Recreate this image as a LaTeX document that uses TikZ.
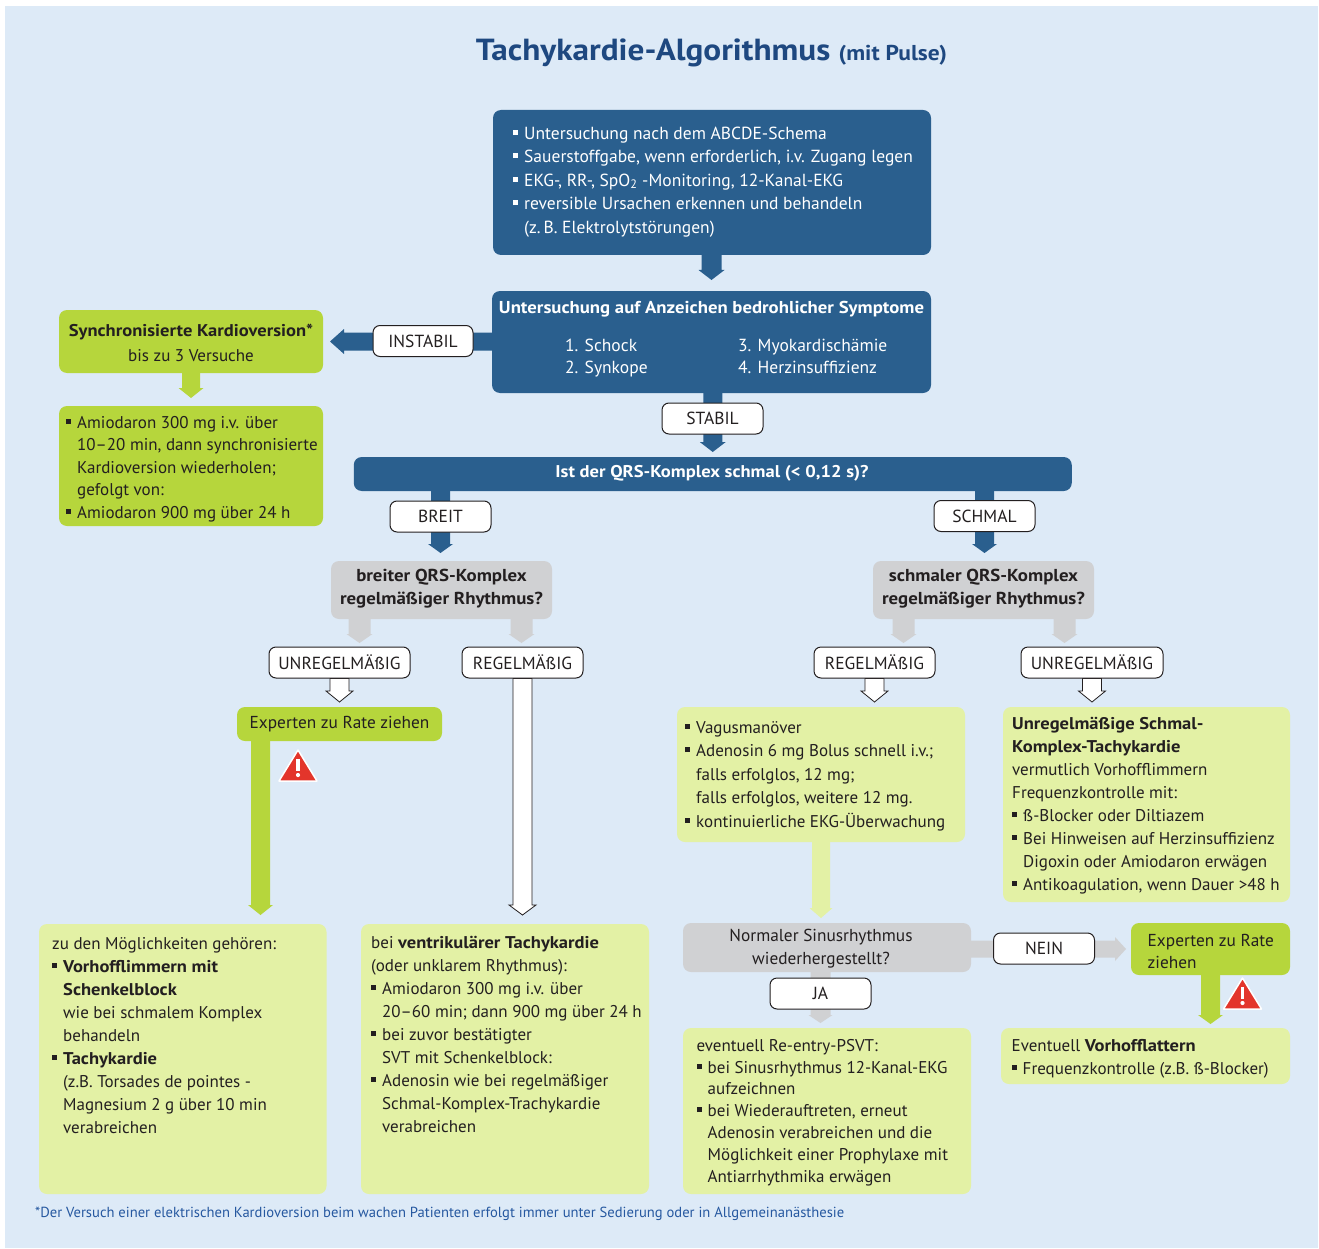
\documentclass[tikz,border=0pt]{standalone}
\usepackage{fontspec}
\setmainfont{PT Sans}[BoldFeatures={FakeStretch=1.09}]
\usetikzlibrary{calc}
\definecolor{bgblue}{RGB}{221,234,247}
\definecolor{dblue}{RGB}{42,95,142}
\definecolor{tblue}{RGB}{30,72,128}
\definecolor{fblue}{RGB}{38,88,160}
\definecolor{bgreen}{RGB}{182,214,60}
\definecolor{lgreen}{RGB}{227,241,165}
\definecolor{grayone}{RGB}{208,209,211}
\definecolor{wred}{RGB}{227,53,43}
\definecolor{txt}{RGB}{35,31,32}
\newcommand\bul{\rule[4.5pt]{5pt}{5pt}\hspace*{6pt}}
\newcommand\ind{\hspace*{11pt}}
\newcommand\fl{\rule{0pt}{14pt}}
\newcommand\fs[2]{\fontsize{#1}{#2}\selectfont}
\newcommand\downblock[6]{\path[#1] let \p1=(#2), \p2=(#3) in
  (\x2-#4,\y1) -- (\x2+#4,\y1) -- (\x2+#4,\y2+#6) -- (\x2+#5,\y2+#6) -- (\x2,\y2)
  -- (\x2-#5,\y2+#6) -- (\x2-#4,\y2+#6) -- cycle;}
\newcommand\leftblock[6]{\path[#1] let \p1=(#2), \p2=(#3) in
  (\x1,\y2-#4) -- (\x2+#6,\y2-#4) -- (\x2+#6,\y2-#5) -- (\x2,\y2)
  -- (\x2+#6,\y2+#5) -- (\x2+#6,\y2+#4) -- (\x1,\y2+#4) -- cycle;}
\newcommand\rightblock[6]{\path[#1] let \p1=(#2), \p2=(#3) in
  (\x1,\y2-#4) -- (\x2-#6,\y2-#4) -- (\x2-#6,\y2-#5) -- (\x2,\y2)
  -- (\x2-#6,\y2+#5) -- (\x2-#6,\y2+#4) -- (\x1,\y2+#4) -- cycle;}
\newcommand\warnsign[1]{%
  \path[fill=wred, draw=white, line width=1.5pt, line join=round]
    ($(#1)+(0,-16)$) -- ($(#1)+(19,15)$) -- ($(#1)+(-19,15)$) -- cycle;
  \fill[white] ($(#1)+(-1.8,-7)$) rectangle ($(#1)+(1.8,5)$);
  \fill[white] ($(#1)+(0,9)$) circle (2.1pt);}
\pgfdeclarelayer{back}
\pgfdeclarelayer{arrows}
\pgfsetlayers{back,arrows,main}
\tikzset{
  bx/.style={rounded corners=8pt, inner sep=0pt, outer sep=0pt},
  dbox/.style={bx, fill=dblue},
  gbox/.style={bx, fill=bgreen},
  lbox/.style={bx, fill=lgreen},
  grbox/.style={bx, fill=grayone},
  lab/.style={draw=txt, line width=1pt, fill=white, rounded corners=7pt, inner sep=0pt,
    minimum height=31pt, text=txt, font=\fs{17.5}{20}},
  tx/.style={anchor=north west, inner sep=0pt, align=left, text=txt},
  ctx/.style={inner sep=0pt, align=center, text=txt},
  darr/.style={fill=dblue},
  garr/.style={fill=grayone},
  larr/.style={fill=lgreen},
  barr/.style={fill=bgreen},
  warr/.style={fill=white, draw=txt, line width=0.8pt, line join=miter}
}
\begin{document}
\begin{tikzpicture}[x=1pt,y=-1pt]
\useasboundingbox (0,0) rectangle (1319,1249);
\begin{pgfonlayer}{back}
  \fill[white] (0,0) rectangle (1319,1249);
  \fill[bgblue] (5,6) rectangle (1318,1248);
\end{pgfonlayer}

% title
\node[font=\bfseries\fs{30.5}{34}, text=tblue, inner sep=0pt] (title) at (711.5,53)
  {Tachykardie-Algorithmus {\fs{21.5}{24}(mit Pulse)}};

% top box
\node[dbox, minimum width=438pt, minimum height=145pt] (b1) at (712,182.5) {};
\node[tx, text=white, font=\fs{17.5}{23.5}] (b1t) at (513,125)
  {\fl\bul Untersuchung nach dem ABCDE-Schema\\
   \bul Sauerstoffgabe, wenn erforderlich, i.v. Zugang legen\\
   \bul EKG-, RR-, SpO\textsubscript{2} -Monitoring, 12-Kanal-EKG\\
   \bul reversible Ursachen erkennen und behandeln\\
   \ind (z.\,B. Elektrolytstörungen)};

% symptoms box
\node[dbox, minimum width=439pt, minimum height=102pt] (b2) at (711.5,342) {};
\node[ctx, text=white, font=\bfseries\fs{17.2}{20}] (b2h) at (711.5,309)
  {Untersuchung auf Anzeichen bedrohlicher Symptome};
\node[tx, text=white, font=\fs{17.5}{22}] (b2a) at (565,337) {\fl 1. Schock\\2. Synkope};
\node[tx, text=white, font=\fs{17.5}{22}] (b2b) at (738,337) {\fl 3. Myokardischämie\\4. Herzinsuffizienz};

% left green boxes
\node[gbox, minimum width=264pt, minimum height=63pt] (g1) at (191,341.5) {};
\node[ctx, font=\fs{17}{25}] (g1t) at (191,342.5)
  {\textbf{Synchronisierte Kardioversion*}\\bis zu 3 Versuche};
\node[gbox, minimum width=264pt, minimum height=120pt] (g2) at (191,466) {};
\node[tx, font=\fs{17}{22.5}] (g2t) at (66,414)
  {\fl\bul Amiodaron 300 mg i.v. über\\
   \ind 10--20 min, dann synchronisierte\\
   \ind Kardioversion wiederholen;\\
   \ind gefolgt von:\\
   \bul Amiodaron 900 mg über 24 h};

\node[lab, minimum width=100pt] (instabil) at (423,341) {INSTABIL};
\node[lab, minimum width=101pt] (stabil) at (712.5,418.5) {STABIL};

% QRS bar
\node[dbox, minimum width=718pt, minimum height=34pt] (qrs) at (712.75,474) {};
\node[ctx, text=white, font=\bfseries\fs{17}{20}] (qrst) at (712,473)
  {Ist der QRS-Komplex schmal (< 0,12 s)?};
\node[lab, minimum width=101pt] (breit) at (440.5,516.5) {BREIT};
\node[lab, minimum width=101pt] (schmal) at (984.5,516) {SCHMAL};

% gray question boxes
\node[grbox, minimum width=221pt, minimum height=58pt] (gl) at (441.5,590) {};
\node[ctx, font=\bfseries\fs{17.3}{23}] (glt) at (441.5,589) {breiter QRS-Komplex\\regelmäßiger Rhythmus?};
\node[grbox, minimum width=221pt, minimum height=58pt] (gr) at (983.5,590) {};
\node[ctx, font=\bfseries\fs{17.3}{23}] (grt) at (983.5,589) {schmaler QRS-Komplex\\regelmäßiger Rhythmus?};

\node[lab, minimum width=141pt] (u1) at (339.5,662.5) {UNREGELMÄßIG};
\node[lab, minimum width=121pt] (r1) at (522.5,662.5) {REGELMÄßIG};
\node[lab, minimum width=121pt] (r2) at (874.5,662.5) {REGELMÄßIG};
\node[lab, minimum width=142pt] (u2) at (1092,662.5) {UNREGELMÄßIG};

% experts left
\node[gbox, minimum width=205pt, minimum height=34pt, text=txt, font=\fs{17.3}{20}] (eL) at (339.5,724)
  {Experten zu Rate ziehen};

% bottom left boxes
\node[lbox, minimum width=287.5pt, minimum height=270pt] (bA) at (182.75,1059) {};
\node[tx, font=\fs{17}{23}] (bAt) at (52,935)
  {\fl zu den Möglichkeiten gehören:\\
   \bul\textbf{Vorhofflimmern mit}\\
   \ind\textbf{Schenkelblock}\\
   \ind wie bei schmalem Komplex\\
   \ind behandeln\\
   \bul\textbf{Tachykardie}\\
   \ind (z.B. Torsades de pointes -\\
   \ind Magnesium 2 g über 10 min\\
   \ind verabreichen};
\node[lbox, minimum width=288pt, minimum height=270pt] (bB) at (505,1059) {};
\node[tx, font=\fs{17}{23}] (bBt) at (371,934)
  {\fl bei \textbf{ventrikulärer Tachykardie}\\
   (oder unklarem Rhythmus):\\
   \bul Amiodaron 300 mg i.v. über\\
   \ind 20--60 min; dann 900 mg über 24 h\\
   \bul bei zuvor bestätigter\\
   \ind SVT mit Schenkelblock:\\
   \bul Adenosin wie bei regelmäßiger\\
   \ind Schmal-Komplex-Trachykardie\\
   \ind verabreichen};

% right side
\node[lbox, minimum width=288pt, minimum height=135pt] (vag) at (821,774.5) {};
\node[tx, font=\fs{17}{23.5}] (vagt) at (685,719)
  {\fl\bul Vagusmanöver\\
   \bul Adenosin 6 mg Bolus schnell i.v.;\\
   \ind falls erfolglos, 12 mg;\\
   \ind falls erfolglos, weitere 12 mg.\\
   \bul kontinuierliche EKG-Überwachung};
\node[lbox, minimum width=287pt, minimum height=195pt] (unr) at (1146.5,804.5) {};
\node[tx, font=\fs{17}{23}] (unrt) at (1012,715)
  {\fl\textbf{Unregelmäßige Schmal-}\\
   \textbf{Komplex-Tachykardie}\\
   vermutlich Vorhofflimmern\\
   Frequenzkontrolle mit:\\
   \bul ß-Blocker oder Diltiazem\\
   \bul Bei Hinweisen auf Herzinsuffizienz\\
   \ind Digoxin oder Amiodaron erwägen\\
   \bul Antikoagulation, wenn Dauer >48 h};

\node[grbox, minimum width=288pt, minimum height=49pt] (sin) at (827,947.5) {};
\node[ctx, font=\fs{17.3}{23}] (sint) at (821,948.5) {Normaler Sinusrhythmus\\wiederhergestellt?};
\node[lab, minimum width=101pt] (nein) at (1044,948.5) {NEIN};
\node[gbox, minimum width=159pt, minimum height=52pt] (eR) at (1210.5,949) {};
\node[tx, font=\fs{17.3}{22}] (eRt) at (1147.5,932) {\fl Experten zu Rate\\ziehen};
\node[lab, minimum width=101pt] (ja) at (820.5,993.5) {JA};

\node[lbox, minimum width=288pt, minimum height=166pt] (re) at (827,1111) {};
\node[tx, font=\fs{17}{21.8}] (ret) at (696.5,1037)
  {\fl eventuell Re-entry-PSVT:\\
   \bul bei Sinusrhythmus 12-Kanal-EKG\\
   \ind aufzeichnen\\
   \bul bei Wiederauftreten, erneut\\
   \ind Adenosin verabreichen und die\\
   \ind Möglichkeit einer Prophylaxe mit\\
   \ind Antiarrhythmika erwägen};
\node[lbox, minimum width=289pt, minimum height=56pt] (vf) at (1145.5,1056) {};
\node[tx, font=\fs{17}{23}] (vft) at (1011.5,1037)
  {\fl Eventuell \textbf{Vorhofflattern}\\
   \bul Frequenzkontrolle (z.B. ß-Blocker)};

% footnote
\node[anchor=west, inner sep=0pt, text=fblue, font=\fs{14.6}{17}] (fn) at (35,1214)
  {*Der Versuch einer elektrischen Kardioversion beim wachen Patienten erfolgt immer unter Sedierung oder in Allgemeinanästhesie};

% arrows
\begin{pgfonlayer}{arrows}
  \downblock{darr}{b1.south}{$(b2.north)+(0,-11)$}{10pt}{13pt}{10pt}
  \downblock{darr}{b2.south}{$(qrs.north)+(0,-5)$}{9.5pt}{13pt}{10pt}
  \leftblock{darr}{b2.west}{$(g1.east)+(7,0)$}{9pt}{12.5pt}{14pt}
  \downblock{barr}{g1.south}{$(g2.north)+(0,-8)$}{9pt}{12.5pt}{10pt}
  \downblock{darr}{qrs.south -| breit}{$(gl.north -| breit)+(0,-8)$}{9.5pt}{12.5pt}{9pt}
  \downblock{darr}{qrs.south -| schmal}{$(gr.north -| schmal)+(0,-8)$}{9.5pt}{12.5pt}{9pt}
  \downblock{garr}{gl.south}{$(gl.south)+(-82,24)$}{11pt}{13pt}{9pt}
  \downblock{garr}{gl.south}{$(gl.south)+(80,24)$}{11pt}{13pt}{9pt}
  \downblock{garr}{gr.south}{$(gr.south)+(-80,24)$}{11pt}{13pt}{9pt}
  \downblock{garr}{gr.south}{$(gr.south)+(81,24)$}{11pt}{13pt}{9pt}
  \downblock{warr}{u1.south}{$(eL.north -| u1)+(0,-5)$}{9.5pt}{13.5pt}{11pt}
  \downblock{warr}{r1.south}{$(bB.north -| r1)+(0,-9)$}{9.5pt}{13.5pt}{10pt}
  \downblock{warr}{r2.south}{$(vag.north -| r2)+(0,-5)$}{9.5pt}{13.5pt}{11pt}
  \downblock{warr}{u2.south}{$(unr.north -| u2)+(0,-5)$}{9.5pt}{13.5pt}{11pt}
  \downblock{barr}{eL.south}{$(eL.south west)+(23.5,174)$}{9.5pt}{12.5pt}{10pt}
  \downblock{larr}{vag.south}{$(vag.south |- sin.north)+(0,-5)$}{9pt}{11.5pt}{10pt}
  \rightblock{garr}{sin.east}{$(eR.west)+(-5,0)$}{8.5pt}{12pt}{11pt}
  \downblock{garr}{sin.south -| ja}{$(re.north -| ja)+(0,-5)$}{10pt}{12pt}{8pt}
  \downblock{barr}{eR.south}{$(eR.south |- vf.north)+(0,-4)$}{9.5pt}{12.5pt}{9pt}
\end{pgfonlayer}

% warning signs
\warnsign{298,766}
\warnsign{1242.5,994}
\end{tikzpicture}
\end{document}
